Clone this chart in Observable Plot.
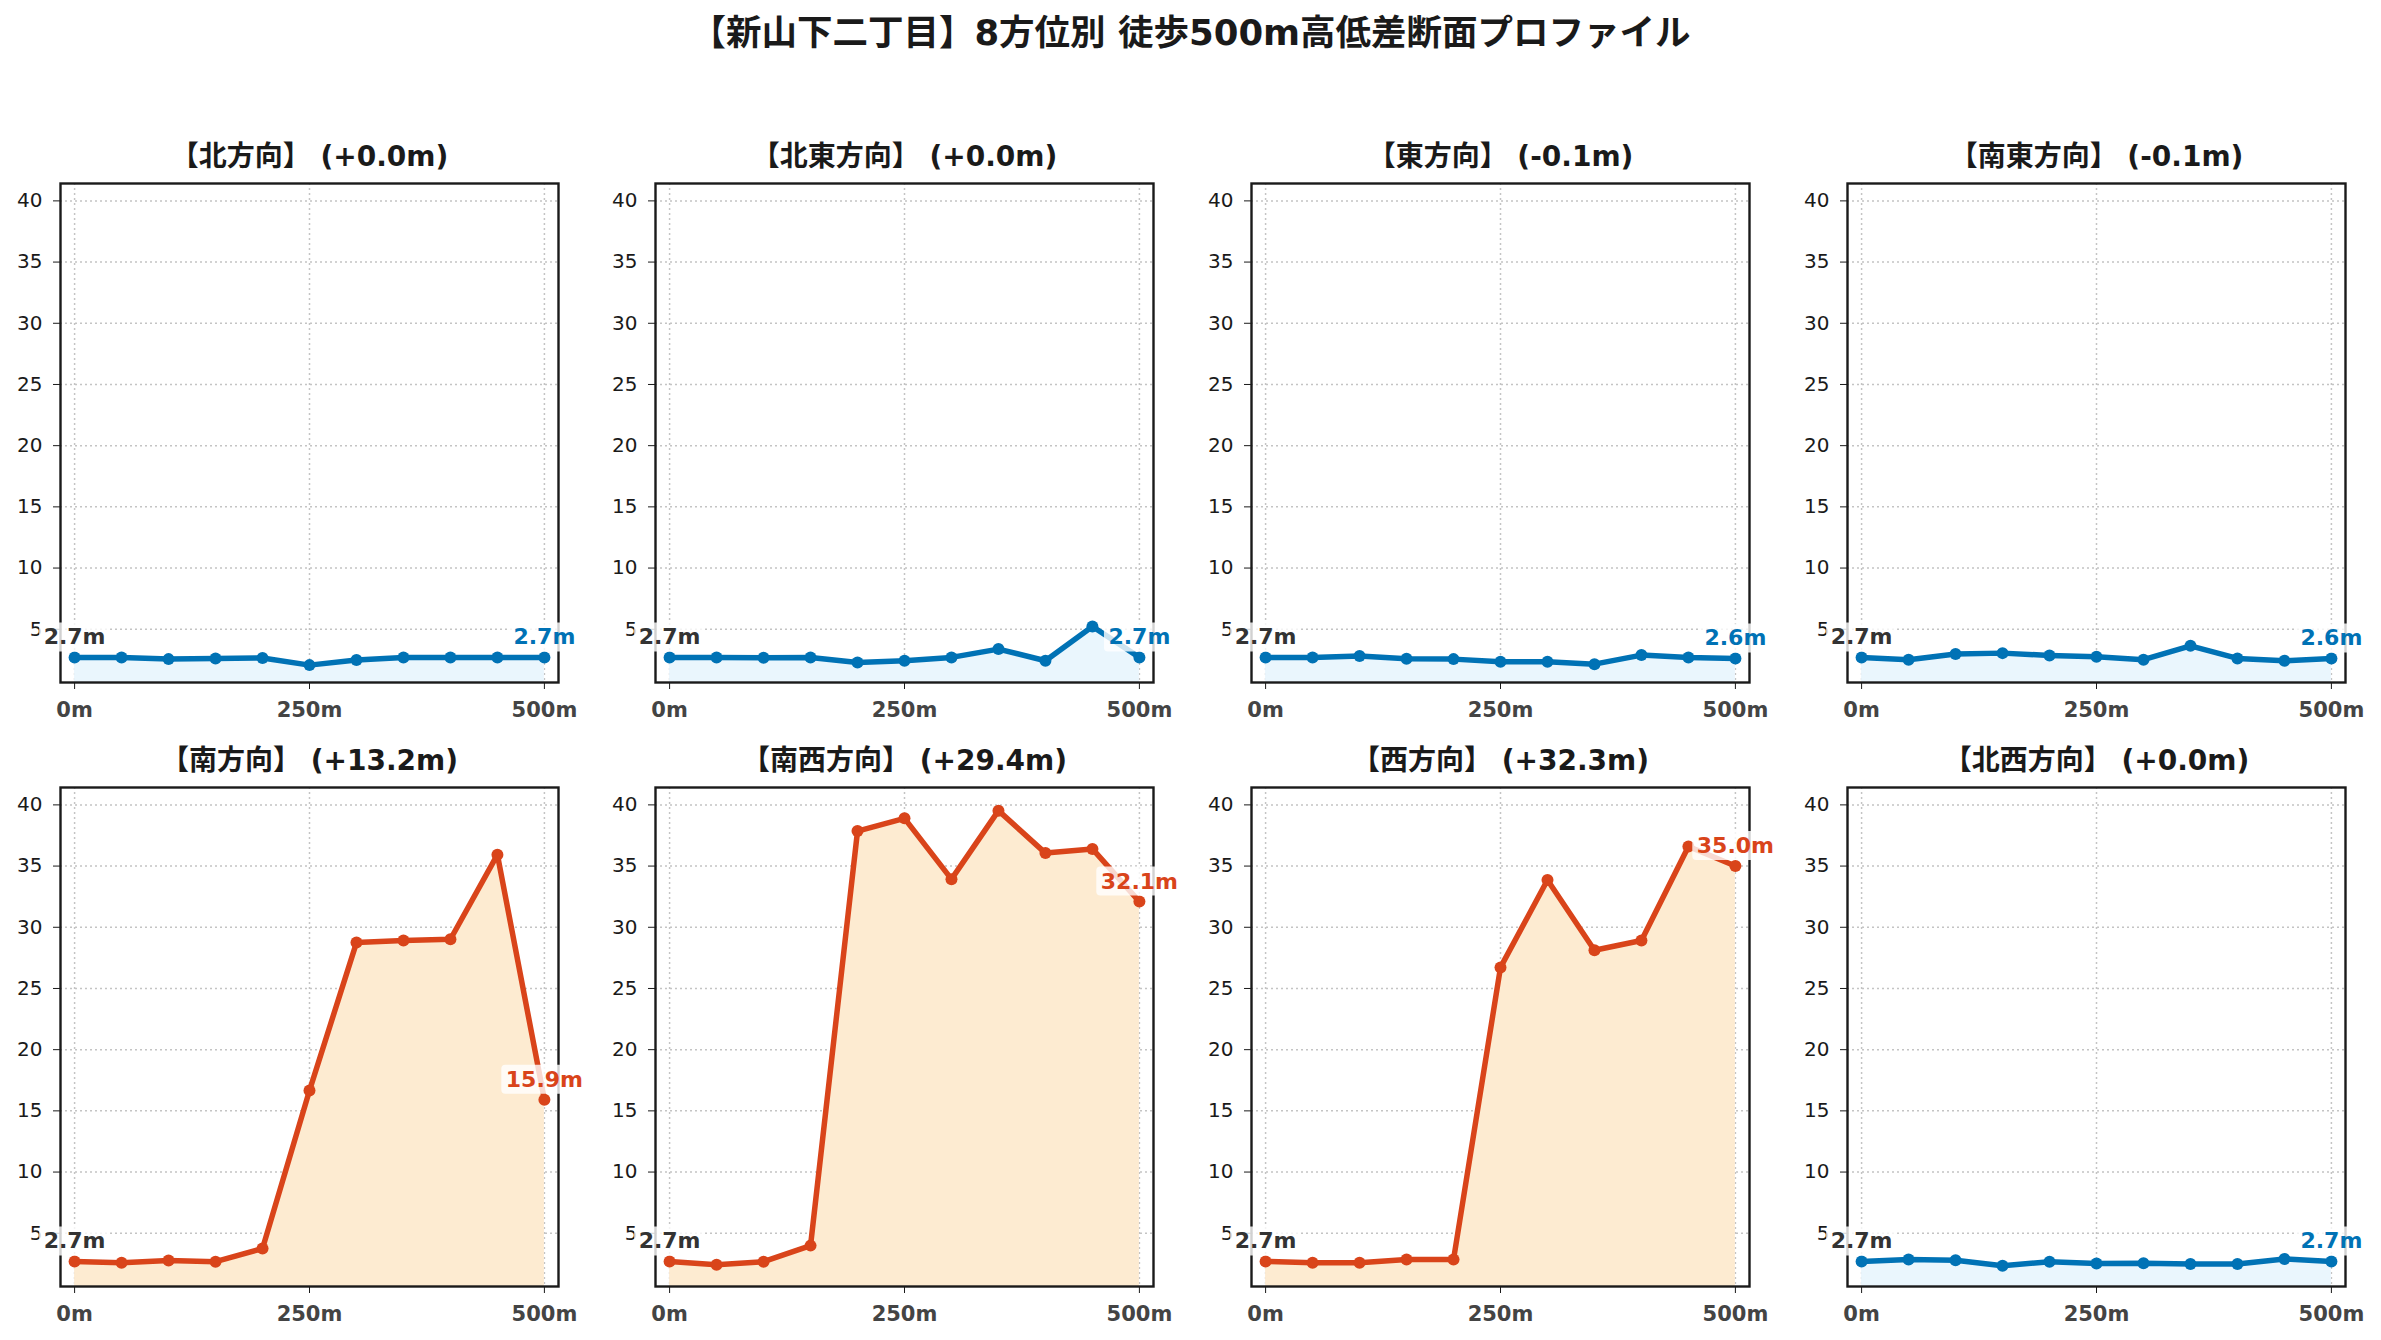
<!DOCTYPE html>
<html><head><meta charset="utf-8">
<script src="https://cdn.jsdelivr.net/npm/d3@7"></script>
<script src="https://cdn.jsdelivr.net/npm/@observablehq/plot@0.6"></script>
<style>
body{margin:0;background:#fff;}
#root{position:relative;width:2381px;height:1340px;overflow:hidden;font-family:"DejaVu Sans","Noto Sans CJK JP",sans-serif;}
#title{position:absolute;left:0;width:2381px;top:13px;text-align:center;font-weight:bold;font-size:35.5px;line-height:40px;color:#1a1a1a;}
.panel{position:absolute;}
</style></head><body>
<div id="root"><div id="title"></div></div>
<script>
const mainTitle = "【新山下二丁目】8方位別 徒歩500m高低差断面プロファイル";
const distances = [0, 50, 100, 150, 200, 250, 300, 350, 400, 450, 500];
const directions = ["北", "北東", "東", "南東", "南", "南西", "西", "北西"];
const elevN  = [2.7, 2.7, 2.56, 2.62, 2.65, 2.07, 2.48, 2.7, 2.7, 2.7, 2.7];
const elevNE = [2.7, 2.7, 2.67, 2.7, 2.29, 2.43, 2.7, 3.38, 2.43, 5.23, 2.7];
const elevE  = [2.7, 2.7, 2.81, 2.59, 2.56, 2.35, 2.35, 2.15, 2.89, 2.7, 2.62];
const elevSE = [2.7, 2.51, 2.97, 3.05, 2.86, 2.75, 2.51, 3.65, 2.62, 2.43, 2.62];
const elevS  = [2.7, 2.6, 2.78, 2.68, 3.75, 16.67, 28.75, 28.92, 29.02, 35.93, 15.9];
const elevSW = [2.7, 2.42, 2.68, 3.99, 37.86, 38.9, 33.93, 39.53, 36.06, 36.4, 32.1];
const elevW  = [2.7, 2.6, 2.6, 2.85, 2.85, 26.72, 33.86, 28.12, 28.92, 36.6, 35.0];
const elevNW = [2.7, 2.85, 2.8, 2.35, 2.68, 2.52, 2.55, 2.48, 2.48, 2.9, 2.7];
const series = [elevN, elevNE, elevE, elevSE, elevS, elevSW, elevW, elevNW];
const xTicks = [0, 250, 500];
const yTicks = [5, 10, 15, 20, 25, 30, 35, 40];

document.getElementById("title").textContent = mainTitle;

const colLeft = [60, 655, 1251, 1847];
const rowTop = [182.6, 786.5];
const FW = 498, FH = 499;
const ML = 60, MR = 40, MT = 60, MB = 50;
const FONT = '"DejaVu Sans","Noto Sans CJK JP",sans-serif';
const root = document.getElementById("root");

directions.forEach((dir, i) => {
  const vals = series[i];
  const rows = distances.map((d, k) => ({d, v: vals[k]}));
  const first = vals[0], last = vals[vals.length - 1];
  const diff = last - first;
  const up = diff > 1;
  const color = up ? "#d9441a" : "#0072b5";
  const fill = up ? "#fdebd1" : "#eaf6fd";
  const sign = diff >= -0.05 ? "+" : "-";
  const title = `【${dir}方向】 (${sign}${Math.abs(diff).toFixed(1)}m)`;
  const chart = Plot.plot({
    width: ML + FW + MR, height: MT + FH + MB,
    marginLeft: ML, marginRight: MR, marginTop: MT, marginBottom: MB,
    style: {background: "transparent", overflow: "visible", fontFamily: FONT},
    x: {domain: [-15, 515]},
    y: {domain: [0.65, 41.42]},
    marks: [
      Plot.gridY(yTicks, {stroke: "#c4c4c4", strokeOpacity: 1, strokeWidth: 1.5, strokeDasharray: "2,3"}),
      Plot.gridX(xTicks, {stroke: "#c4c4c4", strokeOpacity: 1, strokeWidth: 1.5, strokeDasharray: "2,3"}),
      Plot.areaY(rows, {x: "d", y: "v", fill: fill, clip: true}),
      Plot.line(rows, {x: "d", y: "v", stroke: color, strokeWidth: 5.5}),
      Plot.dot(rows, {x: "d", y: "v", r: 6, fill: color}),
      Plot.axisY(yTicks, {tickSize: 7, tickPadding: 11, fontSize: 20, label: null, stroke: "#1a1a1a", fill: "#1a1a1a"}),
      Plot.axisX(xTicks, {tickSize: 7, tickPadding: 13, fontSize: 21, fontWeight: "bold", label: null, tickFormat: d => d + "m", stroke: "#1a1a1a", fill: "#444"}),
      Plot.frame({stroke: "#1a1a1a", strokeWidth: 2.4}),
      Plot.text([title], {frameAnchor: "top", dy: -18, lineAnchor: "bottom", fontSize: 28, fontWeight: "bold", fill: "#1a1a1a"}),
      Plot.text([rows[0]], {x: "d", y: "v", text: d => d.v.toFixed(1) + "m", dy: -13, lineAnchor: "bottom", fontSize: 22, fontWeight: "bold", fill: "#333", className: "lbl"}),
      Plot.text([rows[rows.length - 1]], {x: "d", y: "v", text: d => d.v.toFixed(1) + "m", dy: -13, lineAnchor: "bottom", fontSize: 22, fontWeight: "bold", fill: color, className: "lbl"})
    ]
  });
  chart.classList.add("panel");
  chart.style.left = (colLeft[i % 4] - ML) + "px";
  chart.style.top = (rowTop[Math.floor(i / 4)] - MT) + "px";
  chart.style.maxWidth = "none";
  root.appendChild(chart);
  chart.querySelectorAll("g.lbl text").forEach(t => {
    const b = t.getBBox();
    const r = document.createElementNS("http://www.w3.org/2000/svg", "rect");
    r.setAttribute("x", b.x - 4.5);
    r.setAttribute("y", b.y - 2);
    r.setAttribute("width", b.width + 9);
    r.setAttribute("height", b.height + 4);
    r.setAttribute("rx", 4);
    r.setAttribute("fill", "white");
    r.setAttribute("fill-opacity", 0.8);
    r.setAttribute("stroke", "none");
    if (t.getAttribute("transform")) r.setAttribute("transform", t.getAttribute("transform"));
    t.parentNode.insertBefore(r, t);
  });
});
</script>
</body></html>
